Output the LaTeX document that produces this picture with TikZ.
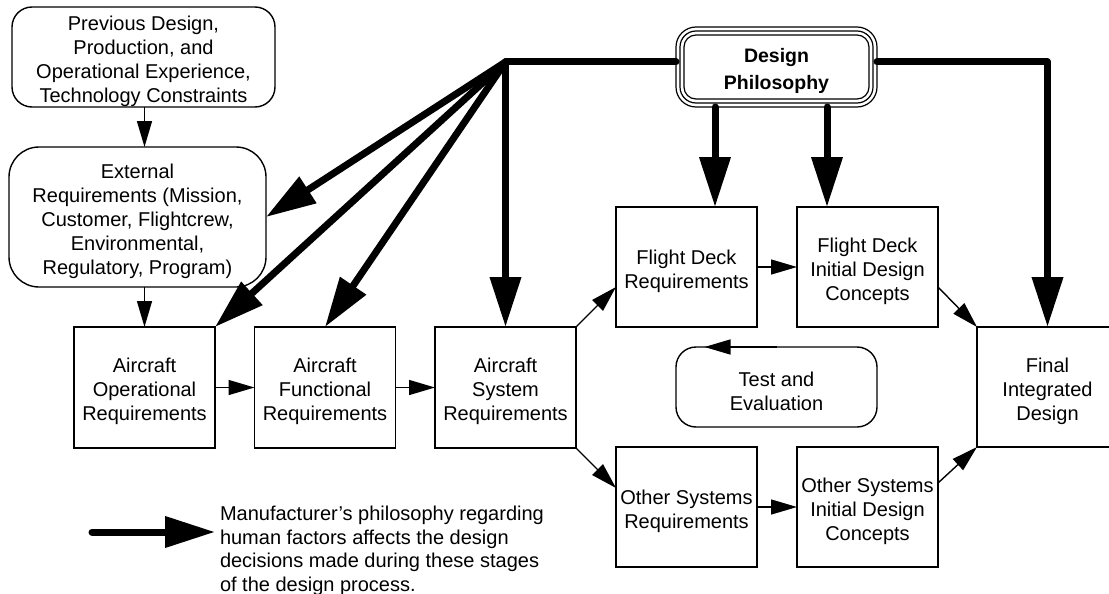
\documentclass[tikz,border=0pt]{standalone}
\usepackage{fontspec}
\setmainfont{Liberation Sans}
\usetikzlibrary{arrows.meta,calc}
\newcommand{\dn}{\rule{0pt}{22.5pt}}
\begin{document}
\begin{tikzpicture}[x=1pt,y=-1pt,
  every node/.style={font=\fontsize{20}{24}\selectfont, align=center, inner sep=0pt, outer sep=0pt},
  sqbox/.style={draw, line width=1.4pt, minimum width=141pt, minimum height=121pt},
  rbox/.style={draw, line width=1.4pt, rounded corners=#1},
  thinarr/.style={line width=1.4pt, -{Triangle[length=26pt,width=15pt]}},
  fatarr/.style={line width=7pt, line cap=round, line join=round, -{Triangle[length=50pt,width=30pt]}},
  fatline/.style={line width=7pt, line cap=round, line join=round},
  dpline/.style={line width=1.2pt},
]
\useasboundingbox (0,0) rectangle (1109,594);
\clip (0,0) rectangle (1109,594);

% nodes
\node[rbox=20pt, minimum width=263pt, minimum height=100pt] (prev) at (143.5,57)
  {\dn Previous Design,\\Production, and\\Operational Experience,\\Technology Constraints};
\node[rbox=30pt, minimum width=257pt, minimum height=140pt] (ext) at (137.5,217)
  {\dn External\\Requirements (Mission,\\Customer, Flightcrew,\\Environmental,\\Regulatory, Program)};
\node[sqbox] (aor) at (144.5,387.5) {\dn Aircraft\\Operational\\Requirements};
\node[sqbox] (afr) at (325,387.5) {\dn Aircraft\\Functional\\Requirements};
\node[sqbox] (asr) at (505.5,387.5) {\dn Aircraft\\System\\Requirements};
\node[sqbox, minimum height=120pt] (fdr) at (686.5,267) {\dn Flight Deck\\Requirements};
\node[sqbox, minimum height=120pt] (fdi) at (867.5,267) {\dn Flight Deck\\Initial Design\\Concepts};
\node[sqbox, minimum height=120pt] (osr) at (686.5,507) {\dn Other Systems\\Requirements};
\node[sqbox, minimum height=120pt] (osi) at (867.5,507) {\dn Other Systems\\Initial Design\\Concepts};
\node[sqbox, minimum height=120pt] (fin) at (1047.5,387) {\dn Final\\Integrated\\Design};
\node[rbox=20pt, minimum width=201pt, minimum height=80pt] (te) at (776.5,387) {\dn Test and\\Evaluation};
\node[minimum width=201pt, minimum height=80pt, font=\bfseries\fontsize{19.5}{27}\selectfont] (dp) at (776.5,67) {\dn Design\\Philosophy};
\draw[dpline, rounded corners=20pt] (dp.north west) rectangle (dp.south east);
\draw[dpline, rounded corners=16pt] ($(dp.north west)+(4,4)$) rectangle ($(dp.south east)+(-4,-4)$);
\draw[dpline, rounded corners=12pt] ($(dp.north west)+(8,8)$) rectangle ($(dp.south east)+(-8,-8)$);

% thin connectors
\draw[thinarr] (prev.south -| aor.north) -- (ext.north -| aor.north);
\draw[thinarr] (ext.south -| aor.north) -- (aor.north);
\draw[thinarr] (aor.east) -- (afr.west);
\draw[thinarr] (afr.east) -- (asr.west);
\draw[thinarr] (asr.north east) -- ($(fdr.west)+(0,20)$);
\draw[thinarr] (asr.south east) -- ($(osr.west)+(0,-19)$);
\draw[thinarr] (fdr.east) -- (fdi.west);
\draw[thinarr] (osr.east) -- (osi.west);
\draw[thinarr] ($(fdi.east)+(0,20)$) -- (fin.north west);
\draw[thinarr] ($(osi.east)+(0,-24)$) -- (fin.south west);
\draw[thinarr] (te.north) -- ($(te.north)+(-72,0)$);

% thick connectors
\coordinate (br) at (505.5,62);
\draw[fatline] (br) -- (br -| dp.west);
\draw[fatarr] (dp.east |- br) -- (fin.north |- br) -- (fin.north);
\draw[fatarr] (br) -- (ext.east);
\draw[fatarr] (br) -- (aor.north east);
\draw[fatarr] (br) -- (afr.north);
\draw[fatarr] (br) -- (asr.north);
\coordinate (dpa) at ($(dp.south)+(-61.5,0)$);
\coordinate (dpb) at ($(dp.south)+(50.5,0)$);
\draw[fatarr] (dpa) -- (dpa |- fdr.north);
\draw[fatarr] (dpb) -- (dpb |- fdi.north);

% legend
\node[anchor=west, align=left, font=\fontsize{20}{23.5}\selectfont] (legtext) at (220,551)
  {Manufacturer’s philosophy regarding\\human factors affects the design\\decisions made during these stages\\of the design process.};
\coordinate (lg) at (92,532);
\coordinate (lgtip) at (legtext.west |- lg);
\draw[fatarr] (lg) -- ($(lgtip)+(-5,0)$);
\end{tikzpicture}
\end{document}
